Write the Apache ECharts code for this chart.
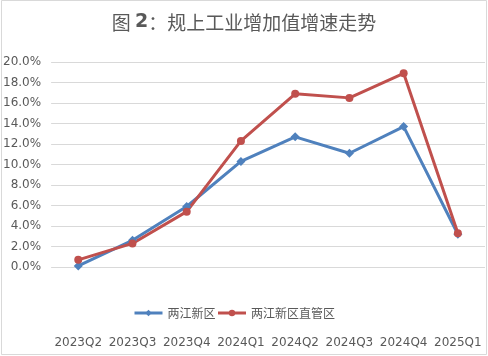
<!DOCTYPE html>
<html>
<head>
<meta charset="utf-8">
<script src="https://cdn.jsdelivr.net/npm/echarts@6/dist/echarts.min.js"></script>
<style>
html,body{margin:0;padding:0;background:#fff;}
#chart{width:488px;height:356px;}
</style>
</head>
<body>
<div id="chart"></div>
<script>
const categories = ['2023Q2','2023Q3','2023Q4','2024Q1','2024Q2','2024Q3','2024Q4','2025Q1'];
const seriesNames = ['两江新区','两江新区直管区'];
const liangjiang = [0.1, 2.6, 5.9, 10.3, 12.7, 11.1, 13.7, 3.2];
const zhiguanqu = [0.7, 2.3, 5.4, 12.3, 16.9, 16.5, 18.9, 3.3];
const yTicks = [0, 2, 4, 6, 8, 10, 12, 14, 16, 18, 20];

const chart = echarts.init(document.getElementById('chart'), null, {renderer:'canvas'});
const grey = '#595959';
chart.setOption({
  animation: false,
  backgroundColor: '#fff',
  graphic: [{
    type: 'rect', silent: true, z: 100,
    shape: {x: 1.5, y: 0.5, width: 485, height: 354},
    style: {fill: 'none', stroke: '#d9d9d9', lineWidth: 1}
  }],
  title: {
    text: '{n|图 }{b|2}{n|：规上工业增加值增速走势}',
    left: 'center', top: 8,
    textStyle: {
      fontWeight: 'normal',
      rich: {
        n: {fontFamily: '"Noto Sans CJK SC", sans-serif', fontSize: 19, fontWeight: 'normal', color: grey},
        b: {fontFamily: '"DejaVu Sans", sans-serif', fontSize: 19, fontWeight: 'bold', color: grey}
      }
    }
  },
  legend: {
    left: 128, top: 302,
    itemWidth: 28, itemHeight: 8, itemGap: 1,
    textStyle: {fontFamily: '"Noto Sans CJK SC", sans-serif', fontSize: 12, color: grey},
    lineStyle: {width: 3},
    data: seriesNames
  },
  grid: {left: 50, right: 3, top: 62, bottom: 89, containLabel: false},
  xAxis: {
    type: 'category', data: categories, boundaryGap: true,
    axisLine: {show: false}, axisTick: {show: false},
    axisLabel: {margin: 70, color: grey, fontFamily: '"DejaVu Sans"', fontSize: 12, interval: 0}
  },
  yAxis: {
    type: 'value', min: yTicks[0], max: yTicks[yTicks.length-1], interval: 2,
    axisLine: {show: false}, axisTick: {show: false},
    splitLine: {lineStyle: {color: '#d9d9d9', width: 1}},
    axisLabel: {margin: 10, color: grey, fontFamily: '"DejaVu Sans"', fontSize: 12,
      formatter: v => v.toFixed(1) + '%'}
  },
  series: [
    {
      name: seriesNames[0], type: 'line', data: liangjiang,
      symbol: 'diamond', symbolSize: 9,
      lineStyle: {color: '#4f81bd', width: 3},
      itemStyle: {color: '#4f81bd'}
    },
    {
      name: seriesNames[1], type: 'line', data: zhiguanqu,
      symbol: 'circle', symbolSize: 8,
      lineStyle: {color: '#c0504d', width: 3},
      itemStyle: {color: '#c0504d'}
    }
  ]
});
</script>
</body>
</html>
